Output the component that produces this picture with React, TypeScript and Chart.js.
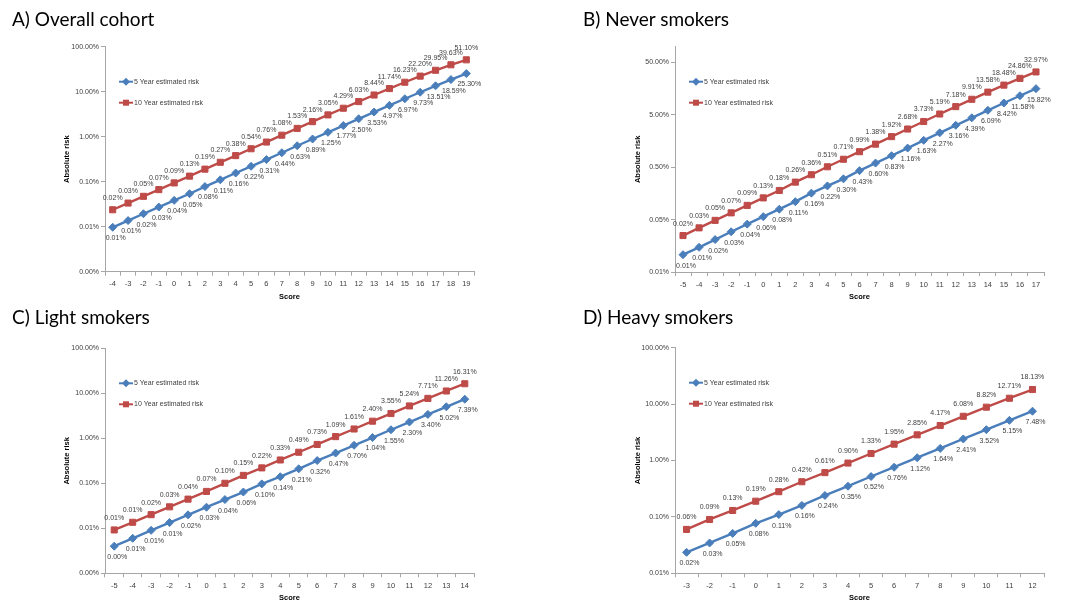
import React, { useEffect, useRef } from 'react';
import { Chart, registerables } from 'chart.js';

Chart.register(...registerables);

const FONT = '"Liberation Sans Narrow", "Arial Narrow", "Liberation Sans", Arial, sans-serif';
const TITLE_FONT = 'Lato, "Open Sans", sans-serif';
const BLUE = '#4A7EBB';
const RED = '#BE4B48';
const AXIS = '#A6A6A6';
const TXT = '#404040';

// ---- A) Overall cohort ----
const scoresA = [-4, -3, -2, -1, 0, 1, 2, 3, 4, 5, 6, 7, 8, 9, 10, 11, 12, 13, 14, 15, 16, 17, 18, 19];
const fiveYearA = [0.0097, 0.0137, 0.0194, 0.0273, 0.0385, 0.054, 0.078, 0.11, 0.156, 0.22, 0.31, 0.44, 0.63, 0.89, 1.25, 1.77, 2.5, 3.53, 4.97, 6.97, 9.73, 13.51, 18.59, 25.3];
const tenYearA = [0.0238, 0.0335, 0.0473, 0.0667, 0.094, 0.133, 0.19, 0.27, 0.38, 0.54, 0.76, 1.08, 1.53, 2.16, 3.05, 4.29, 6.03, 8.44, 11.74, 16.23, 22.2, 29.95, 39.63, 51.1];
const yTicksA = [0.001, 0.01, 0.1, 1, 10, 100];
const yTickLabelsA = ['0.00%', '0.01%', '0.10%', '1.00%', '10.00%', '100.00%'];

// ---- B) Never smokers ----
const scoresB = [-5, -4, -3, -2, -1, 0, 1, 2, 3, 4, 5, 6, 7, 8, 9, 10, 11, 12, 13, 14, 15, 16, 17];
const fiveYearB = [0.0107, 0.0148, 0.0208, 0.0293, 0.041, 0.057, 0.079, 0.11, 0.16, 0.22, 0.3, 0.43, 0.6, 0.83, 1.16, 1.63, 2.27, 3.16, 4.39, 6.09, 8.42, 11.58, 15.82];
const tenYearB = [0.0248, 0.0348, 0.0484, 0.0673, 0.0935, 0.13, 0.18, 0.26, 0.36, 0.51, 0.71, 0.99, 1.38, 1.92, 2.68, 3.73, 5.19, 7.18, 9.91, 13.58, 18.48, 24.86, 32.97];
const yTicksB = [0.005, 0.05, 0.5, 5, 50];
const yTickLabelsB = ['0.01%', '0.05%', '0.50%', '5.00%', '50.00%'];

// ---- C) Light smokers ----
const scoresC = [-5, -4, -3, -2, -1, 0, 1, 2, 3, 4, 5, 6, 7, 8, 9, 10, 11, 12, 13, 14];
const fiveYearC = [0.004, 0.006, 0.009, 0.0134, 0.0199, 0.0294, 0.0435, 0.064, 0.097, 0.14, 0.21, 0.32, 0.47, 0.7, 1.04, 1.55, 2.3, 3.4, 5.02, 7.39];
const tenYearC = [0.0092, 0.0136, 0.0201, 0.03, 0.0445, 0.066, 0.1, 0.15, 0.22, 0.33, 0.49, 0.73, 1.09, 1.61, 2.4, 3.55, 5.24, 7.71, 11.26, 16.31];
const yTicksC = [0.001, 0.01, 0.1, 1, 10, 100];
const yTickLabelsC = ['0.00%', '0.01%', '0.10%', '1.00%', '10.00%', '100.00%'];

// ---- D) Heavy smokers ----
const scoresD = [-3, -2, -1, 0, 1, 2, 3, 4, 5, 6, 7, 8, 9, 10, 11, 12];
const fiveYearD = [0.0235, 0.0345, 0.051, 0.077, 0.11, 0.16, 0.24, 0.35, 0.52, 0.76, 1.12, 1.64, 2.41, 3.52, 5.15, 7.48];
const tenYearD = [0.06, 0.09, 0.13, 0.19, 0.28, 0.42, 0.61, 0.9, 1.33, 1.95, 2.85, 4.17, 6.08, 8.82, 12.71, 18.13];
const yTicksD = [0.01, 0.1, 1, 10, 100];
const yTickLabelsD = ['0.01%', '0.10%', '1.00%', '10.00%', '100.00%'];

const seriesNames = ['5 Year estimated risk', '10 Year estimated risk'];

type PanelDef = {
  title: string;
  scores: number[];
  five: number[];
  ten: number[];
  yMin: number;
  yMax: number;
  yTicks: number[];
  yTickLabels: string[];
  left: number;
  top: number;
  height: number;
  titleX: number;
  titleTop: number;
  area: { left: number; right: number; top: number; bottom: number };
  yTitleX: number;
};

const panels: PanelDef[] = [
  {
    title: 'A) Overall cohort', scores: scoresA, five: fiveYearA, ten: tenYearA,
    yMin: 0.001, yMax: 100, yTicks: yTicksA, yTickLabels: yTickLabelsA,
    left: 0, top: 0, height: 301, titleX: 12, titleTop: 10,
    area: { left: 105, right: 474, top: 46.7, bottom: 271.7 }, yTitleX: 67,
  },
  {
    title: 'B) Never smokers', scores: scoresB, five: fiveYearB, ten: tenYearB,
    yMin: 0.005, yMax: 100, yTicks: yTicksB, yTickLabels: yTickLabelsB,
    left: 535, top: 0, height: 301, titleX: 48, titleTop: 10,
    area: { left: 140, right: 509, top: 46.7, bottom: 272 }, yTitleX: 103,
  },
  {
    title: 'C) Light smokers', scores: scoresC, five: fiveYearC, ten: tenYearC,
    yMin: 0.001, yMax: 100, yTicks: yTicksC, yTickLabels: yTickLabelsC,
    left: 0, top: 300, height: 302, titleX: 12, titleTop: 8,
    area: { left: 105, right: 474, top: 48.3, bottom: 273.3 }, yTitleX: 67,
  },
  {
    title: 'D) Heavy smokers', scores: scoresD, five: fiveYearD, ten: tenYearD,
    yMin: 0.01, yMax: 100, yTicks: yTicksD, yTickLabels: yTickLabelsD,
    left: 535, top: 300, height: 302, titleX: 48, titleTop: 8,
    area: { left: 140, right: 509, top: 47.7, bottom: 273.3 }, yTitleX: 103,
  },
];

function drawMarker(ctx: CanvasRenderingContext2D, kind: number, x: number, y: number, color: string) {
  ctx.fillStyle = color;
  ctx.beginPath();
  if (kind === 0) {
    const r = 4;
    ctx.moveTo(x, y - r);
    ctx.lineTo(x + r, y);
    ctx.lineTo(x, y + r);
    ctx.lineTo(x - r, y);
    ctx.closePath();
  } else {
    const s = 3;
    ctx.rect(x - s, y - s, 2 * s, 2 * s);
  }
  ctx.fill();
}

const labelPlugin = {
  id: 'pctLabels',
  afterDatasetsDraw(chart: any) {
    const ctx: CanvasRenderingContext2D = chart.ctx;
    const area = chart.chartArea;
    ctx.save();
    ctx.font = `7px ${FONT}`;
    ctx.fillStyle = TXT;
    ctx.textAlign = 'center';
    ctx.textBaseline = 'middle';
    chart.data.datasets.forEach((ds: any, i: number) => {
      const meta = chart.getDatasetMeta(i);
      meta.data.forEach((pt: any, j: number) => {
        const v = ds.data[j] as number;
        const txt = v.toFixed(2) + '%';
        if (i === 0) ctx.fillText(txt, pt.x + 3, pt.y + 11);
        else ctx.fillText(txt, pt.x, pt.y - 12);
      });
    });
    // legend inside plot area
    chart.data.datasets.forEach((ds: any, i: number) => {
      const y = area.top + 35 + i * 21;
      const x0 = area.left + 14;
      ctx.strokeStyle = ds.borderColor;
      ctx.lineWidth = 2;
      ctx.beginPath();
      ctx.moveTo(x0, y);
      ctx.lineTo(x0 + 14, y);
      ctx.stroke();
      drawMarker(ctx, i, x0 + 7, y, ds.borderColor);
      ctx.fillStyle = TXT;
      ctx.textAlign = 'left';
      ctx.font = `7px ${FONT}`;
      ctx.fillText(ds.label, x0 + 15, y);
    });
    ctx.restore();
  },
};

function Panel({ def }: { def: PanelDef }) {
  const ref = useRef<HTMLCanvasElement | null>(null);
  useEffect(() => {
    if (!ref.current) return;
    const W = 535;
    const H = def.height;
    const chart = new Chart(ref.current, {
      type: 'line',
      data: {
        labels: def.scores.map((s) => String(s)),
        datasets: [
          {
            label: seriesNames[0], data: def.five, borderColor: BLUE, backgroundColor: BLUE,
            borderWidth: 2.4, pointStyle: 'rectRot', pointRadius: 4, pointBorderWidth: 1,
            pointBackgroundColor: BLUE, pointBorderColor: BLUE, tension: 0,
          },
          {
            label: seriesNames[1], data: def.ten, borderColor: RED, backgroundColor: RED,
            borderWidth: 2.4, pointStyle: 'rect', pointRadius: 4.3, pointBorderWidth: 1,
            pointBackgroundColor: RED, pointBorderColor: RED, tension: 0,
          },
        ],
      },
      options: {
        animation: false,
        responsive: true,
        maintainAspectRatio: false,
        layout: { padding: { top: def.area.top, right: W - def.area.right, bottom: 0, left: 0 } },
        plugins: { legend: { display: false }, tooltip: { enabled: false }, title: { display: false } },
        scales: {
          x: {
            type: 'category',
            offset: true,
            grid: { offset: true, drawOnChartArea: false, drawTicks: true, tickLength: 4, color: AXIS },
            border: { color: AXIS, width: 1 },
            ticks: { font: { family: FONT, size: 7.5 }, color: TXT, padding: 4, maxRotation: 0, autoSkip: false },
            title: { display: true, text: 'Score', font: { family: FONT, size: 7.5, weight: 'bold' }, color: '#000', padding: 0 },
            afterFit: (s: any) => { s.height = H - def.area.bottom; },
          },
          y: {
            type: 'logarithmic',
            min: def.yMin,
            max: def.yMax,
            grid: { drawOnChartArea: false, drawTicks: true, tickLength: 4, color: AXIS },
            border: { color: AXIS, width: 1 },
            ticks: {
              font: { family: FONT, size: 7 }, color: TXT, padding: 2, autoSkip: false,
              callback: (v: any) => {
                const i = def.yTicks.indexOf(Number(v));
                return i >= 0 ? def.yTickLabels[i] : '';
              },
            },
            afterBuildTicks: (s: any) => { s.ticks = def.yTicks.map((v) => ({ value: v })); },
            title: {
              display: true, text: 'Absolute risk', font: { family: FONT, size: 7.5, weight: 'bold' }, color: '#000',
              padding: { top: def.yTitleX - 4.5, bottom: 0 },
            },
            afterFit: (s: any) => { s.width = def.area.left; },
          },
        },
      } as any,
      plugins: [labelPlugin],
    });
    return () => chart.destroy();
  }, [def]);

  return (
    <div style={{ position: 'absolute', left: def.left, top: def.top, width: 535, height: def.height }}>
      <div style={{ position: 'absolute', left: 0, top: 0, width: 535, height: def.height }}>
        <canvas ref={ref} />
      </div>
      <div
        style={{
          position: 'absolute', left: def.titleX, top: def.titleTop - 1, fontFamily: TITLE_FONT,
          fontSize: 19, lineHeight: '19px', color: '#000', whiteSpace: 'nowrap',
        }}
      >
        {def.title}
      </div>
    </div>
  );
}

export default function App() {
  return (
    <div style={{ position: 'absolute', left: 0, top: 0, width: 1070, height: 602, background: '#fff', overflow: 'hidden' }}>
      {panels.map((p) => (
        <Panel key={p.title} def={p} />
      ))}
    </div>
  );
}
